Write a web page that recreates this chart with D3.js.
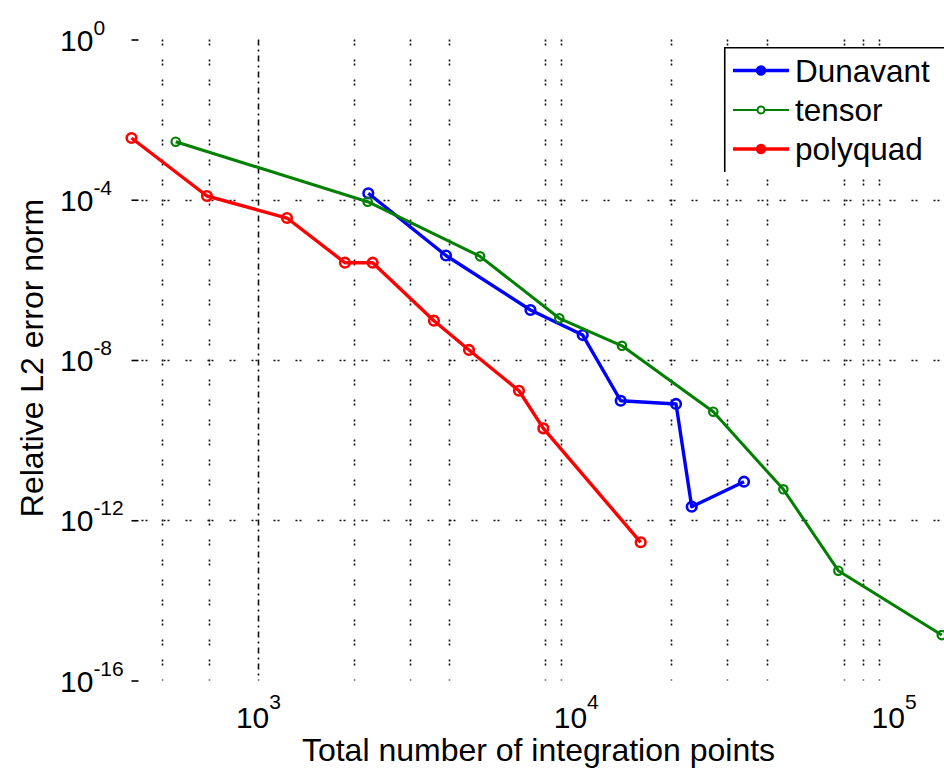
<!DOCTYPE html>
<html>
<head>
<meta charset="utf-8">
<script src="https://cdn.jsdelivr.net/npm/d3@7"></script>
<style>
  body { margin: 0; background: #fff; }
  svg { display: block; }
</style>
</head>
<body>
<div id="vis-container"></div>
<script>
// integration points vs relative L2 error
var dunavantX = [2224, 3905, 7203, 10518, 13850, 20680, 23170, 33840];
var dunavantY = [1.45e-4, 4.06e-6, 1.77e-7, 4.2e-8, 9.6e-10, 8.0e-10, 2.18e-12, 9.16e-12];

var tensorX = [551, 2214, 5000, 8876, 13980, 27090, 45000, 67040, 141800];
var tensorY = [2.81e-3, 8.93e-5, 3.87e-6, 1.1e-7, 2.26e-8, 5.12e-10, 5.92e-12, 5.5e-14, 1.36e-15];

var polyquadX = [400, 691, 1234, 1878, 2296, 3579, 4614, 6628, 7906, 16010];
var polyquadY = [3.48e-3, 1.24e-4, 3.5e-5, 2.68e-6, 2.68e-6, 9.57e-8, 1.78e-8, 1.71e-9, 1.97e-10, 2.82e-13];

var seriesNames = ["Dunavant", "tensor", "polyquad"];

var xTicks = [1e3, 1e4, 1e5];
var xTickExp = ["3", "4", "5"];
var yTicks = [1, 1e-4, 1e-8, 1e-12, 1e-16];
var yTickExp = ["0", "-4", "-8", "-12", "-16"];

// grid lines that survive in the picture
var xGrid = [500, 700, 1000, 2000, 3000, 4000, 8000, 9000, 20000, 30000, 40000, 70000, 80000, 90000];
var yGrid = [1e-4, 1e-8, 1e-12];

var W = 944, H = 770;
var FONT = "'Liberation Sans', Arial, sans-serif";

var svg = d3.select("#vis-container").append("svg")
  .attr("width", W)
  .attr("height", H)
  .style("font-family", FONT);

svg.append("rect").attr("width", W).attr("height", H).attr("fill", "#fff");

var x = d3.scaleLog().domain([400, 150000]).range([131.5, 949.5]);
var y = d3.scaleLog().domain([1e-16, 1]).range([680.5, 39.5]);

// grid
var grid = svg.append("g");
grid.selectAll("line.vg")
  .data(xGrid)
  .enter()
  .append("line")
  .attr("x1", function (d) { return Math.round(x(d)) + 0.5; })
  .attr("x2", function (d) { return Math.round(x(d)) + 0.5; })
  .attr("y1", y(1))
  .attr("y2", y(1e-16))
  .attr("stroke", "#111")
  .attr("stroke-width", 1.6)
  .attr("stroke-dasharray", function (d) { return d == 1000 ? "6,4,2,4" : "2,2,2,14"; });

grid.selectAll("line.hg")
  .data(yGrid)
  .enter()
  .append("line")
  .attr("x1", x(400) + 10)
  .attr("x2", W)
  .attr("y1", function (d) { return Math.round(y(d)) + 0.5; })
  .attr("y2", function (d) { return Math.round(y(d)) + 0.5; })
  .attr("stroke", "#111")
  .attr("stroke-width", 1.6)
  .attr("stroke-dasharray", "2,2,2,16");

// y axis (ticks point inward, no axis line)
var yAxis = svg.append("g")
  .attr("transform", "translate(" + x(400) + ",0)")
  .call(d3.axisLeft(y).tickValues(yTicks).tickSize(-7).tickFormat(""));
yAxis.select(".domain").remove();
yAxis.selectAll(".tick line").attr("stroke", "#000").attr("stroke-width", 1.6);
yAxis.selectAll(".tick text").remove();
yAxis.selectAll(".tick").each(function (d, i) {
  var t = d3.select(this).append("text")
    .attr("x", 60 - x(400))
    .attr("y", 10.5)
    .attr("text-anchor", "start")
    .attr("fill", "#000")
    .style("font-size", "30px");
  t.append("tspan").text("10");
  t.append("tspan").attr("dy", -16).style("font-size", "21px").text(yTickExp[i]);
});

// x axis labels
var xAxis = svg.append("g")
  .attr("transform", "translate(0," + y(1e-16) + ")")
  .call(d3.axisBottom(x).tickValues(xTicks).tickSize(0).tickFormat(""));
xAxis.select(".domain").remove();
xAxis.selectAll(".tick text").remove();
xAxis.selectAll(".tick").each(function (d, i) {
  var t = d3.select(this).append("text")
    .attr("y", 47.5)
    .attr("text-anchor", "middle")
    .attr("fill", "#000")
    .style("font-size", "30px");
  t.append("tspan").text("10");
  t.append("tspan").attr("dy", -19).style("font-size", "21px").text(xTickExp[i]);
});

// axis titles
svg.append("text")
  .attr("x", (x(400) + x(150000)) / 2 - 2)
  .attr("y", 761)
  .attr("text-anchor", "middle")
  .style("font-size", "32px")
  .text("Total number of integration points");

svg.append("text")
  .attr("transform", "translate(43,358) rotate(-90)")
  .attr("text-anchor", "middle")
  .style("font-size", "32px")
  .text("Relative L2 error norm");

// series
var series = [
  { name: seriesNames[0], xs: dunavantX, ys: dunavantY, color: "#0000ff", lw: 3.4, r: 4.8, mw: 2.6 },
  { name: seriesNames[1], xs: tensorX, ys: tensorY, color: "#008000", lw: 3, r: 4.2, mw: 2.2 },
  { name: seriesNames[2], xs: polyquadX, ys: polyquadY, color: "#ff0000", lw: 3.4, r: 4.8, mw: 2.6 }
];

var line = d3.line()
  .x(function (d) { return x(d[0]); })
  .y(function (d) { return y(d[1]); });

series.forEach(function (s) {
  var pts = s.xs.map(function (v, i) { return [v, s.ys[i]]; });
  var g = svg.append("g");
  g.append("path")
    .datum(pts)
    .attr("d", line)
    .attr("fill", "none")
    .attr("stroke", s.color)
    .attr("stroke-width", s.lw)
    .attr("stroke-linejoin", "round");
  g.selectAll("circle")
    .data(pts)
    .enter()
    .append("circle")
    .attr("cx", function (d) { return x(d[0]); })
    .attr("cy", function (d) { return y(d[1]); })
    .attr("r", s.r)
    .attr("fill", "none")
    .attr("stroke", s.color)
    .attr("stroke-width", s.mw);
});

// legend (box runs off the right edge)
var leg = svg.append("g").attr("transform", "translate(724,47)");
leg.append("rect")
  .attr("x", 0).attr("y", 0)
  .attr("width", 260).attr("height", 125)
  .attr("fill", "#fff");
leg.append("path")
  .attr("d", "M0.75,125V0.75H260")
  .attr("fill", "none")
  .attr("stroke", "#000")
  .attr("stroke-width", 1.6);

var legRows = [23.5, 63, 102];
series.forEach(function (s, i) {
  var ry = legRows[i];
  leg.append("line")
    .attr("x1", 9).attr("x2", 65)
    .attr("y1", ry).attr("y2", ry)
    .attr("stroke", s.color)
    .attr("stroke-width", i == 1 ? 1.8 : 3.4);
  leg.append("circle")
    .attr("cx", 37).attr("cy", ry)
    .attr("r", i == 1 ? 3.5 : 4.2)
    .attr("fill", i == 1 ? "#fff" : s.color)
    .attr("stroke", s.color)
    .attr("stroke-width", 2);
  leg.append("text")
    .attr("x", 71)
    .attr("y", ry + 11)
    .style("font-size", "31.5px")
    .text(s.name);
});
</script>
</body>
</html>
